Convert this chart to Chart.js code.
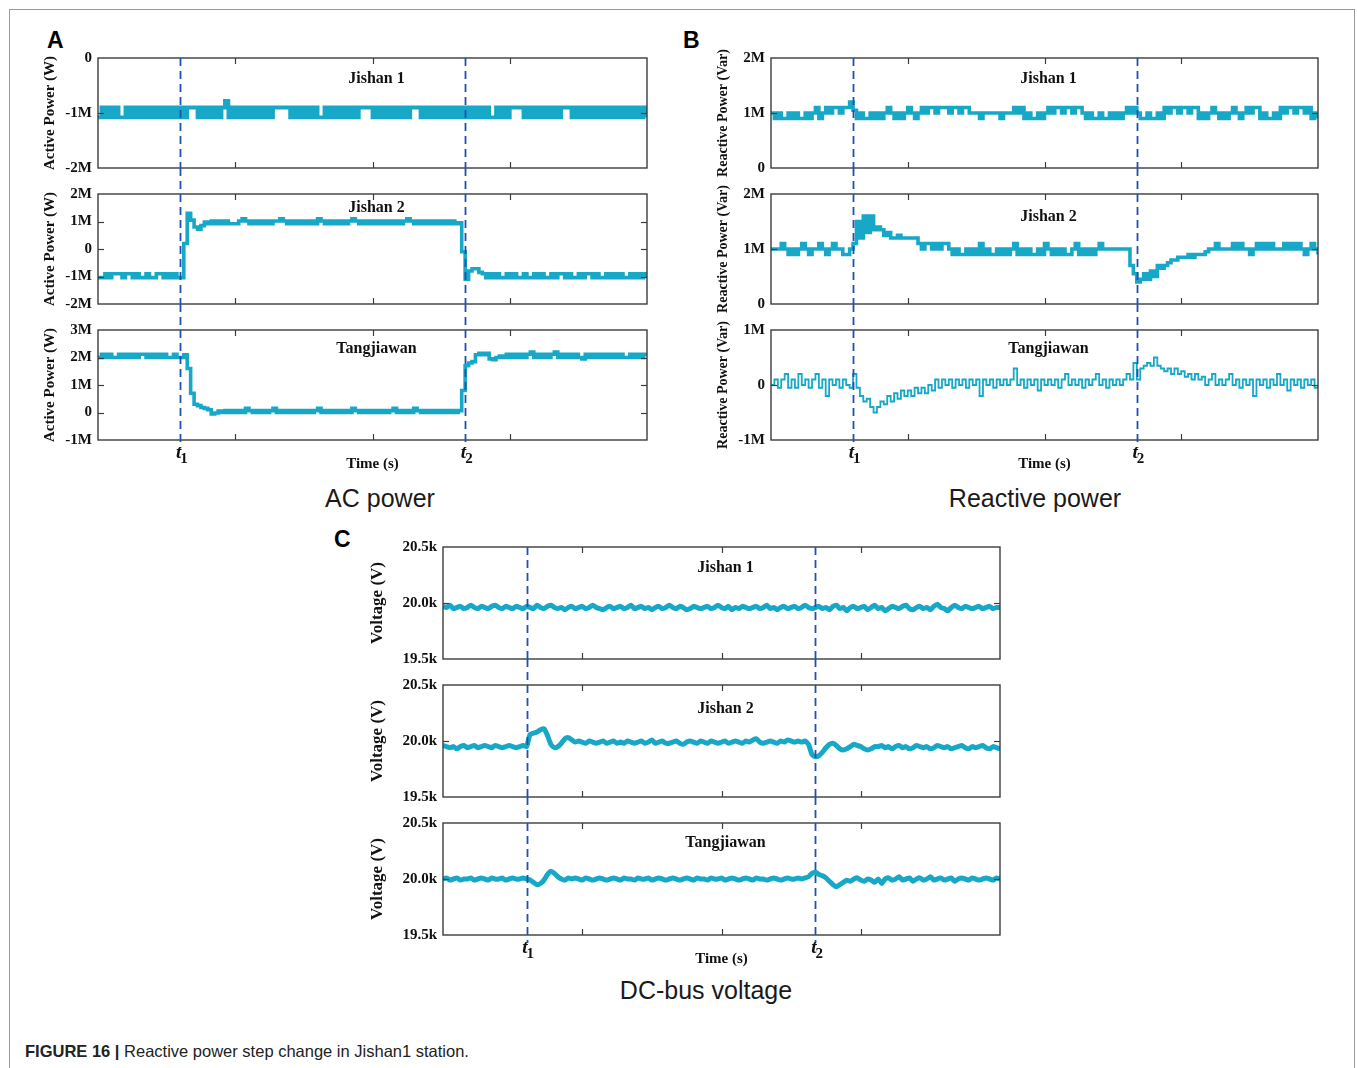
<!DOCTYPE html>
<html><head><meta charset="utf-8">
<script src="https://cdn.jsdelivr.net/npm/chart.js@4.4.1/dist/chart.umd.min.js"></script>
<style>
html,body{margin:0;padding:0;background:#fff;overflow:hidden;width:1357px;height:1068px}
canvas{position:absolute}
.frame{position:absolute;left:9px;top:9px;width:1344px;height:1200px;border:1px solid #9a9a9a}
.letter{position:absolute;font:bold 23px "Liberation Sans",Arial,sans-serif;line-height:1;color:#000}
.ptitle{position:absolute;width:400px;text-align:center;font:25px "Liberation Sans",Arial,sans-serif;line-height:1;color:#1a1a1a}
.caption{position:absolute;left:25px;top:1043px;font:16.5px "Liberation Sans",Arial,sans-serif;line-height:1;color:#222;white-space:nowrap}
</style></head><body>
<div class="frame"></div>
<div class="letter" style="left:47px;top:29px">A</div>
<div class="letter" style="left:683px;top:29px">B</div>
<div class="letter" style="left:334px;top:528px">C</div>
<div class="ptitle" style="left:180px;top:486px">AC power</div>
<div class="ptitle" style="left:835px;top:486px">Reactive power</div>
<div class="ptitle" style="left:506px;top:978px">DC-bus voltage</div>
<div class="caption"><b>FIGURE 16 |</b> Reactive power step change in Jishan1 station.</div>
<script>
// ---------------- data ----------------
const sampleCount = 161;               // samples over the window
const sampleStep = 0.025;              // s (arbitrary time units)
const time = Array.from({length: sampleCount}, (_, i) => +(i * sampleStep).toFixed(3));
const timeTicks = [1, 2, 3];
const eventTimes = [0.6, 2.675];
const eventLabels = ['1', '2'];
const stations = ['Jishan 1', 'Jishan 2', 'Tangjiawan'];

// Active power (MW)
const activeJishan1 = [
-1.08,-0.9,-1.08,-0.9,-1.08,-0.9,-1.08,-1.08,-0.9,-1.08,-0.9,-1.08,-0.9,-1.08,-0.9,-1.08,-0.9,-1.08,-0.9,-1.08,
-0.9,-1.08,-0.9,-1.08,-0.9,-1.08,-0.9,-0.9,-0.9,-1.08,-0.9,-1.08,-0.9,-1.08,-0.9,-1.08,-0.9,-0.78,-1.08,-0.9,
-1.08,-0.9,-1.08,-0.9,-1.08,-0.9,-1.08,-0.9,-1.08,-0.9,-1.08,-0.9,-0.9,-0.9,-0.9,-0.9,-1.08,-0.9,-1.08,-0.9,
-1.08,-0.9,-1.08,-0.9,-1.08,-1.08,-0.9,-1.08,-0.9,-1.08,-0.9,-1.08,-0.9,-1.08,-0.9,-1.08,-0.9,-0.9,-0.9,-0.9,
-1.08,-0.9,-1.08,-0.9,-1.08,-0.9,-1.08,-0.9,-1.08,-0.9,-1.08,-0.9,-0.9,-0.9,-1.08,-0.9,-1.08,-0.9,-1.08,-0.9,
-1.08,-0.9,-1.08,-0.9,-1.08,-0.9,-1.08,-0.9,-1.08,-0.9,-1.08,-0.9,-1.08,-0.9,-1.08,-1.08,-0.9,-1.08,-0.9,-1.08,
-0.9,-0.9,-0.9,-0.9,-1.08,-0.9,-1.08,-0.9,-1.08,-0.9,-1.08,-0.9,-1.08,-0.9,-1.08,-0.9,-0.9,-0.9,-1.08,-0.9,
-1.08,-0.9,-1.08,-0.9,-1.08,-0.9,-1.08,-0.9,-1.08,-0.9,-1.08,-0.9,-1.08,-0.9,-1.08,-0.9,-1.08,-0.9,-1.08,-0.9,
-1.08];
const activeJishan2 = [
-1.04,-1.04,-0.9,-1.04,-0.9,-0.9,-0.9,-1.04,-0.9,-0.9,-1.04,-0.9,-1.04,-1.04,-0.9,-1.04,-1.04,-0.9,-0.9,-1.04,
-0.9,-1.04,-0.9,-1.04,-1.04,0.2,1.3,1.05,0.8,0.72,0.85,0.98,0.92,1.02,0.92,1.02,0.92,1.02,0.92,0.92,
0.92,1.02,1.1,1.02,0.92,1.02,0.92,1.02,0.92,1.02,0.92,1.02,1.02,1.1,1.02,0.92,1.02,0.92,1.02,0.92,
1.02,0.92,1.02,0.92,1.1,1.02,0.92,1.02,0.92,1.02,0.92,1.02,0.92,1.02,1.1,1.02,0.92,1.02,0.92,1.02,
0.92,1.02,0.92,1.02,0.92,1.02,0.92,1.02,0.92,1.02,1.1,1.02,0.92,1.02,0.92,1.02,0.92,1.02,0.92,1.02,
0.92,1.02,0.92,1.02,0.92,0.95,-0.1,-1.1,-0.8,-0.72,-0.72,-0.85,-0.9,-1.04,-0.9,-1.04,-0.9,-1.04,-1.04,-0.9,
-1.04,-0.9,-1.04,-1.04,-0.9,-1.04,-1.04,-0.9,-1.04,-0.9,-1.04,-1.04,-0.9,-1.04,-0.9,-0.9,-1.04,-0.9,-1.04,-1.04,
-0.9,-1.04,-0.9,-0.9,-1.04,-0.9,-1.04,-1.04,-0.9,-1.04,-0.9,-1.04,-0.9,-1.04,-1.04,-0.9,-1.04,-0.9,-1.04,-0.9,
-1.04];
const activeTangjiawan = [
2.0,2.12,2.0,2.12,2.0,2.0,2.12,2.0,2.12,2.0,2.12,2.0,2.12,2.12,2.0,2.12,2.0,2.12,2.0,2.12,
2.0,2.0,2.12,2.0,2.0,2.1,1.6,0.7,0.3,0.25,0.18,0.15,0.1,-0.05,-0.02,0.05,0.0,0.07,0.0,0.07,
0.0,0.07,0.0,0.15,0.07,0.0,0.07,0.0,0.07,0.0,0.07,0.15,0.0,0.07,0.0,0.07,0.0,0.07,0.0,0.07,
0.0,0.07,0.0,0.07,0.15,0.0,0.07,0.0,0.07,0.0,0.07,0.0,0.07,0.0,0.15,0.07,0.0,0.07,0.0,0.07,
0.0,0.07,0.0,0.07,0.0,0.07,0.15,0.0,0.07,0.0,0.07,0.0,0.15,0.07,0.0,0.07,0.0,0.07,0.0,0.07,
0.0,0.07,0.0,0.07,0.0,0.07,0.8,1.7,1.8,1.85,2.1,2.15,2.1,2.15,1.95,1.92,2.0,2.05,2.0,2.12,
2.0,2.12,2.0,2.12,2.0,2.12,2.2,2.0,2.12,2.0,2.12,2.0,2.12,2.2,2.0,2.12,2.0,2.12,2.0,2.12,
2.0,1.95,2.12,2.0,2.12,2.0,2.12,2.0,2.12,2.0,2.12,2.0,2.12,2.0,2.0,2.12,2.0,2.12,2.0,2.12,
2.05];

// Reactive power (MVar)
const reactiveJishan1 = [
1.0,0.9,1.0,0.9,0.9,1.0,0.9,1.0,0.9,0.9,1.0,0.9,
1.0,1.1,0.9,1.0,1.1,
1.0,1.1,1.1,1.0,1.1,1.1,1.2,
1.05,
0.9,1.0,0.9,0.9,1.0,0.9,1.0,0.9,1.0,
1.1,1.0,0.9,1.0,0.9,1.0,1.1,1.0,0.9,1.0,
1.1,1.0,1.1,1.1,1.0,1.1,1.1,1.1,1.0,1.1,1.1,1.0,1.1,1.1,
1.0,1.0,1.0,0.9,1.0,1.0,1.0,1.0,1.0,0.9,1.0,1.0,1.0,
1.1,1.0,1.1,
0.9,1.0,0.9,0.9,1.0,0.9,1.0,
1.1,1.0,1.1,1.1,1.0,1.1,1.1,1.0,1.1,1.1,1.0,
0.9,1.0,0.9,0.9,1.0,0.9,0.9,1.0,0.9,1.0,0.9,1.0,
1.1,1.0,1.1,1.0,
0.9,0.9,1.0,0.9,0.9,1.0,0.9,
1.1,1.0,1.1,1.1,1.0,1.1,1.1,1.0,1.1,1.1,
0.9,1.0,0.9,1.0,1.1,1.0,0.9,1.0,0.9,1.0,1.1,1.0,0.9,1.0,
1.1,1.0,1.1,1.1,
0.9,1.0,0.9,0.9,1.0,0.9,
1.1,1.0,1.1,1.1,1.0,1.1,1.1,1.0,1.1,
0.9,1.0,0.9];
const reactiveJishan2 = [
1.0,1.0,1.0,1.1,1.0,0.9,1.0,0.9,1.0,1.1,1.0,0.9,1.0,1.0,1.1,1.0,0.9,1.0,1.1,1.0,1.0,0.9,0.9,1.0,1.1,
1.5,1.2,1.6,1.3,1.6,1.35,1.4,1.35,1.25,1.3,1.2,1.2,1.25,1.2,1.2,1.2,1.2,1.2,
1.1,1.0,1.1,1.1,1.0,1.1,1.0,1.1,1.1,1.0,
0.9,1.0,0.9,0.9,1.0,0.9,1.0,0.9,1.1,0.9,1.0,0.9,0.9,1.0,0.9,1.0,0.9,1.0,1.1,0.9,
1.0,0.9,1.0,0.9,0.9,1.0,0.9,1.1,1.0,0.9,1.0,0.9,1.0,0.9,0.9,1.0,1.1,0.9,1.0,0.9,
1.0,0.9,1.0,1.1,1.0,1.0,1.0,1.0,1.0,1.0,1.0,1.0,
0.7,0.55,0.4,0.45,0.55,0.45,0.6,0.5,0.7,0.65,0.7,0.75,0.8,0.8,0.85,0.85,0.85,0.9,0.85,0.9,0.9,0.9,0.95,
1.0,1.0,1.1,1.0,1.0,1.0,1.0,1.1,1.0,1.1,1.0,1.0,0.9,1.0,1.1,1.0,1.1,1.0,1.1,1.0,1.0,1.0,1.1,1.0,1.1,1.0,1.1,1.0,0.9,1.0,1.1,1.0,0.9];
const reactiveTangjiawan = [
0.0,0.1,-0.05,0.1,0.2,-0.05,0.1,-0.05,0.2,0.0,0.1,-0.05,0.1,0.2,-0.05,0.1,-0.2,0.1,0.0,0.1,-0.05,0.1,0.0,-0.05,0.2,
-0.05,-0.2,-0.3,-0.25,-0.4,-0.5,-0.4,-0.3,-0.35,-0.2,-0.3,-0.15,-0.25,-0.1,-0.2,-0.1,-0.2,-0.05,-0.15,-0.05,-0.15,0.0,-0.1,
0.1,-0.05,0.1,0.0,0.1,-0.05,0.1,0.0,0.1,-0.05,0.1,0.0,0.1,-0.2,0.1,0.0,0.1,-0.05,0.1,0.0,
0.1,0.0,0.1,0.3,0.0,0.1,-0.05,0.1,0.0,0.1,-0.1,0.1,0.0,0.1,0.0,0.1,-0.05,0.1,0.2,0.0,
0.1,0.0,0.1,-0.05,0.1,0.0,0.1,0.2,0.0,0.1,-0.05,0.1,0.0,0.1,0.0,0.1,0.2,0.1,
0.4,0.1,0.3,0.35,0.4,0.35,0.5,0.35,0.3,0.25,0.3,0.2,0.3,0.2,0.25,0.15,0.2,0.1,0.2,0.1,0.15,0.0,0.1,0.2,0.0,0.1,0.0,0.1,0.2,0.0,
0.1,-0.05,0.1,0.0,0.1,-0.2,0.1,0.0,0.1,-0.05,0.1,0.0,0.2,0.0,0.1,-0.1,0.1,0.0,0.1,-0.05,0.1,0.0,0.1,-0.05,0.0];

// DC-bus voltage (kV)
const voltageJishan1 = [
19.97,19.96,19.98,19.95,19.96,19.97,19.95,19.96,19.98,19.96,19.95,19.97,19.96,19.95,19.97,19.98,19.96,19.95,19.97,19.96,
19.95,19.97,19.96,19.95,19.97,19.96,19.95,19.98,19.96,19.95,19.97,19.98,19.96,19.95,19.96,19.94,19.96,19.97,19.95,19.96,
19.97,19.95,19.96,19.98,19.96,19.95,19.94,19.96,19.97,19.95,19.96,19.97,19.95,19.96,19.98,19.95,19.96,19.97,19.95,19.96,
19.94,19.96,19.97,19.95,19.96,19.98,19.96,19.95,19.97,19.96,19.94,19.95,19.97,19.96,19.95,19.96,19.97,19.95,19.96,19.98,
19.96,19.95,19.97,19.94,19.96,19.95,19.97,19.96,19.95,19.96,19.97,19.95,19.96,19.98,19.95,19.96,19.94,19.96,19.97,19.95,
19.96,19.97,19.95,19.96,19.98,19.96,19.95,19.96,19.97,19.95,19.96,19.94,19.97,19.98,19.95,19.96,19.93,19.96,19.97,19.95,
19.96,19.97,19.94,19.96,19.98,19.95,19.96,19.93,19.95,19.97,19.96,19.95,19.97,19.98,19.95,19.94,19.96,19.97,19.95,19.96,
19.94,19.97,19.99,19.96,19.95,19.93,19.96,19.98,19.96,19.95,19.97,19.96,19.95,19.96,19.97,19.95,19.96,19.97,19.95,19.96,
19.96];
const voltageJishan2 = [
19.96,19.95,19.94,19.95,19.93,19.95,19.96,19.94,19.95,19.96,19.94,19.95,19.96,19.95,19.94,19.96,19.95,19.94,19.95,19.96,19.95,19.94,19.95,19.96,19.95,
20.06,20.07,20.08,20.1,20.11,20.05,19.97,19.94,19.95,19.98,20.02,20.03,20.01,19.99,20.0,19.99,19.98,20.0,19.99,19.98,
19.99,20.0,19.98,19.99,20.0,19.98,19.99,19.98,20.0,19.99,19.98,19.99,20.0,19.98,19.99,20.01,19.98,19.99,20.0,19.98,
19.98,19.99,20.0,19.98,19.97,19.99,20.0,19.99,19.98,20.0,19.99,19.98,20.0,19.99,19.98,19.99,20.0,19.98,19.99,20.0,
19.99,19.98,20.0,19.99,20.01,20.02,19.99,19.98,19.99,20.0,19.99,19.98,20.0,19.99,20.01,20.0,19.99,20.0,19.99,20.0,
19.97,19.88,19.86,19.87,19.9,19.94,19.97,19.98,19.96,19.93,19.92,19.93,19.95,19.97,19.96,19.95,19.93,19.92,19.93,19.95,
19.95,19.96,19.94,19.95,19.93,19.95,19.96,19.94,19.95,19.93,19.94,19.96,19.95,19.94,19.95,19.93,19.94,19.96,19.95,19.94,
19.95,19.93,19.94,19.95,19.96,19.94,19.93,19.95,19.94,19.95,19.96,19.94,19.93,19.95,19.94,19.93];
const voltageTangjiawan = [
20.0,20.01,19.99,20.0,20.01,19.99,20.0,20.0,20.01,19.99,20.0,20.01,20.0,19.99,20.01,20.0,20.0,20.01,19.99,20.0,20.01,20.0,20.0,20.01,20.0,
19.99,19.97,19.95,19.96,19.99,20.04,20.07,20.05,20.02,20.0,19.99,20.01,20.0,20.01,20.0,19.99,20.01,20.0,19.99,20.0,
20.01,20.0,19.99,20.0,20.01,20.0,19.99,20.01,20.0,20.0,19.99,20.01,20.0,20.0,20.01,19.99,20.0,20.01,20.0,19.99,
20.0,20.01,20.0,19.99,20.0,20.01,20.0,19.99,20.01,20.0,20.0,19.99,20.01,20.0,20.0,20.01,19.99,20.0,20.01,20.0,
19.99,20.0,20.01,20.0,19.99,20.01,20.0,20.0,19.99,20.0,20.01,20.0,19.99,20.0,20.01,20.0,20.0,20.01,20.0,20.01,
20.02,20.05,20.06,20.04,20.03,20.01,19.98,19.95,19.93,19.95,19.97,19.99,19.98,20.0,20.01,19.99,19.98,20.0,19.99,19.97,
20.0,19.96,20.0,20.01,19.99,20.0,20.02,19.99,20.0,20.01,19.98,20.0,20.01,19.99,20.0,20.02,19.99,20.0,20.01,19.99,
20.0,20.01,19.98,20.0,20.01,20.0,19.99,20.01,20.0,19.99,20.0,20.01,20.0,19.99,20.01,20.0];

// ---------------- styling / layout ----------------
const LINE = '#17a8c8';
const SERIF = '"Liberation Serif","Times New Roman",serif';
const fmtM = v => (Math.abs(v) < 1e-9 ? '0' : Math.round(v) + 'M');
const fmtK = v => v.toFixed(1) + 'k';

const panels = [
  {left: 41, axisW: 57, plotW: 549, plotH: 110, tops: [58, 194, 330],
   yTitle: 'Active Power (W)', yTitleSize: 15,
   series: [activeJishan1, activeJishan2, activeTangjiawan],
   limits: [[-2, 0], [-2, 2], [-1, 3]], step: 1, fmt: fmtM,
   width: [3.8, 3.6, 3.6], stepped: true, tension: 0, titleOff: [21, 14, 19]},
  {left: 715, axisW: 56, plotW: 547, plotH: 110, tops: [58, 194, 330],
   yTitle: 'Reactive Power (Var)', yTitleSize: 14,
   series: [reactiveJishan1, reactiveJishan2, reactiveTangjiawan],
   limits: [[0, 2], [0, 2], [-1, 1]], step: 1, fmt: fmtM,
   width: [3.6, 3.6, 1.8], stepped: true, tension: 0, titleOff: [21, 23, 19]},
  {left: 367, axisW: 76, plotW: 557, plotH: 112, tops: [547, 685, 823],
   yTitle: 'Voltage (V)', yTitleSize: 17,
   series: [voltageJishan1, voltageJishan2, voltageTangjiawan],
   limits: [[19.5, 20.5], [19.5, 20.5], [19.5, 20.5]], step: 0.5, fmt: fmtK,
   width: [5, 5, 5], stepped: false, tension: 0.2, titleOff: [21, 24, 20]}
];

const decor = {
  id: 'decor',
  afterDatasetsDraw(chart, args, o) {
    const {ctx, chartArea: a, scales: {x, y}} = chart;
    const seg = (x1, y1, x2, y2) => { ctx.beginPath(); ctx.moveTo(x1, y1); ctx.lineTo(x2, y2); ctx.stroke(); };
    ctx.save();
    ctx.strokeStyle = '#3c3c3c';
    ctx.lineWidth = 1.4;
    ctx.strokeRect(a.left, a.top, a.right - a.left, a.bottom - a.top);
    ctx.lineWidth = 1.2;
    timeTicks.forEach(t => {
      const px = Math.round(x.getPixelForValue(t)) + 0.5;
      seg(px, a.bottom, px, a.bottom - 6);
      seg(px, a.top, px, a.top + 6);
    });
    y.ticks.forEach(t => {
      if (t.value <= y.min + 1e-9 || t.value >= y.max - 1e-9) return;
      const py = Math.round(y.getPixelForValue(t.value)) + 0.5;
      seg(a.left, py, a.left + 6, py);
      seg(a.right, py, a.right - 6, py);
    });
    ctx.strokeStyle = '#1f50b3';
    ctx.lineWidth = 1.8;
    ctx.setLineDash([8, 5]);
    eventTimes.forEach(t => {
      const px = Math.round(x.getPixelForValue(t)) + 0.5;
      seg(px, a.top - o.extendTop, px, a.bottom + o.extendBottom);
    });
    ctx.setLineDash([]);
    ctx.fillStyle = '#111';
    ctx.font = 'bold 16px ' + SERIF;
    ctx.textAlign = 'center';
    ctx.textBaseline = 'middle';
    ctx.fillText(o.title, (a.left + a.right) / 2 + 4, a.top + o.titleOff);
    if (o.eventLabels) {
      ctx.textBaseline = 'alphabetic';
      eventTimes.forEach((t, i) => {
        const px = x.getPixelForValue(t);
        ctx.font = 'italic bold 19px ' + SERIF;
        ctx.textAlign = 'right';
        ctx.fillText('t', px + 1, a.bottom + 18);
        ctx.font = 'bold 15px ' + SERIF;
        ctx.textAlign = 'left';
        ctx.fillText(eventLabels[i], px, a.bottom + 23);
      });
    }
    ctx.restore();
  }
};

panels.forEach(p => {
  for (let k = 0; k < 3; k++) {
    const last = k === 2;
    const bottomH = last ? 33 : 30;
    const W = p.axisW + p.plotW + 10;
    const H = 30 + p.plotH + bottomH;
    const cv = document.createElement('canvas');
    cv.width = W; cv.height = H;
    cv.style.left = p.left + 'px';
    cv.style.top = (p.tops[k] - 30) + 'px';
    cv.style.width = W + 'px'; cv.style.height = H + 'px';
    document.body.appendChild(cv);
    const vals = p.series[k];
    new Chart(cv, {
      type: 'line',
      data: {datasets: [{
        data: time.map((t, i) => ({x: t, y: vals[i]})),
        borderColor: LINE, borderWidth: p.width[k], pointRadius: 0,
        stepped: p.stepped, tension: p.tension, fill: false,
        borderJoinStyle: 'miter', borderCapStyle: 'butt'
      }]},
      options: {
        responsive: false, animation: false, devicePixelRatio: 1,
        layout: {padding: {top: 30, right: 10, left: 0, bottom: 0}},
        plugins: {
          legend: {display: false}, tooltip: {enabled: false},
          decor: {title: stations[k], titleOff: p.titleOff[k], extendTop: k === 0 ? 0 : 26,
                  extendBottom: last ? 8 : 0, eventLabels: last}
        },
        scales: {
          x: {type: 'linear', min: 0, max: 4,
              ticks: {display: false, stepSize: 1},
              grid: {display: false, drawTicks: false}, border: {display: false},
              title: {display: last, text: 'Time (s)', color: '#111', padding: 0,
                      font: {family: SERIF, size: 15, weight: 'bold'}},
              afterFit: s => { s.height = bottomH; }},
          y: {min: p.limits[k][0], max: p.limits[k][1],
              ticks: {stepSize: p.step, autoSkip: false, padding: 6, color: '#111',
                      font: {family: SERIF, size: 15, weight: 'bold'},
                      callback: v => p.fmt(v)},
              grid: {display: false, drawTicks: false}, border: {display: false},
              title: {display: true, text: p.yTitle, color: '#111', padding: 0,
                      font: {family: SERIF, size: p.yTitleSize, weight: 'bold'}},
              afterFit: s => { s.width = p.axisW; }}
        }
      },
      plugins: [decor]
    });
  }
});
</script>
</body></html>
